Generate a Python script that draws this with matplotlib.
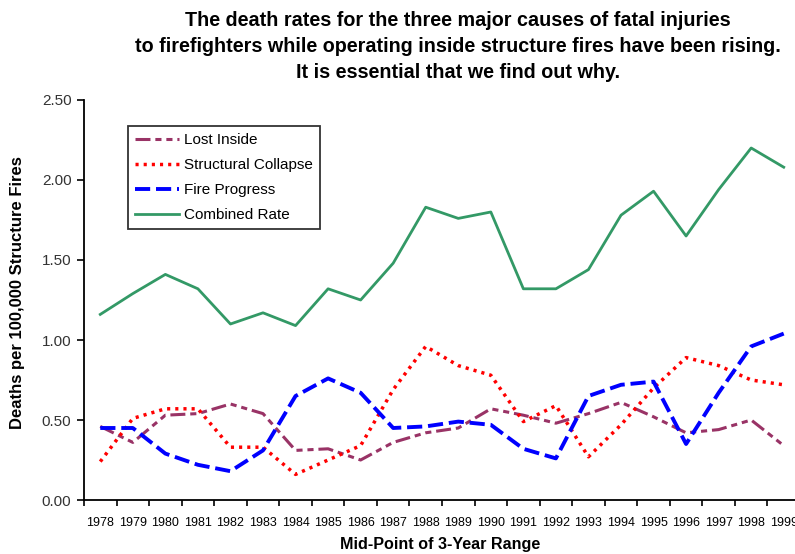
import numpy as np
import matplotlib
matplotlib.use("Agg")
import matplotlib.pyplot as plt

plt.rcParams['font.family'] = ['Liberation Sans', 'DejaVu Sans']

years = [str(y) for y in range(1978, 2000)]
lost_inside = [0.46, 0.36, 0.53, 0.54, 0.60, 0.54, 0.31, 0.32, 0.25, 0.36, 0.42,
               0.45, 0.57, 0.53, 0.48, 0.54, 0.61, 0.52, 0.42, 0.44, 0.50, 0.34]
structural_collapse = [0.24, 0.51, 0.57, 0.57, 0.33, 0.33, 0.16, 0.25, 0.34, 0.69, 0.96,
                       0.84, 0.78, 0.49, 0.59, 0.27, 0.47, 0.70, 0.89, 0.84, 0.75, 0.72]
fire_progress = [0.45, 0.45, 0.29, 0.22, 0.18, 0.31, 0.65, 0.76, 0.67, 0.45, 0.46,
                 0.49, 0.47, 0.32, 0.26, 0.65, 0.72, 0.74, 0.35, 0.67, 0.96, 1.04]
combined_rate = [1.16, 1.29, 1.41, 1.32, 1.10, 1.17, 1.09, 1.32, 1.25, 1.48, 1.83,
                 1.76, 1.80, 1.32, 1.32, 1.44, 1.78, 1.93, 1.65, 1.94, 2.20, 2.08]
yticks = [0.0, 0.5, 1.0, 1.5, 2.0, 2.5]

W, H = 795, 554
fig = plt.figure(figsize=(W / 100, H / 100), dpi=100)
ax = fig.add_axes([84 / W, (H - 500) / H, 716 / W, 400 / H])

x = np.arange(len(years))
l1, = ax.plot(x, lost_inside, color='#993366', lw=2.2, label='Lost Inside')
l1.set_dashes([4.9, 1.6, 2.0, 1.6, 2.0, 1.6])
l2, = ax.plot(x, structural_collapse, color='#FF0000', lw=2.5, label='Structural Collapse',
              dash_capstyle='butt')
l2.set_dashes([0.9, 1.45])
l3, = ax.plot(x, fire_progress, color='#0000FF', lw=2.8, label='Fire Progress')
l3.set_dashes([3.9, 1.5])
l4, = ax.plot(x, combined_rate, color='#339966', lw=2.0, label='Combined Rate')

ax.set_xlim(-0.5, len(years) - 0.5)
ax.set_ylim(0, 2.5)
ax.set_xticks(x)
ax.set_xticklabels(years, fontsize=9)
ax.set_xticks(np.arange(-0.5, len(years), 1.0), minor=True)
ax.tick_params(axis='x', which='major', length=0, pad=12)
ax.tick_params(axis='x', which='minor', length=4, width=1.2, direction='out')
ax.set_yticks(yticks)
ax.set_yticklabels([f"{v:.2f}" for v in yticks], fontsize=11, color='#333333')
ax.tick_params(axis='y', length=5, width=1.2, direction='out', pad=4)
for s in ('top', 'right'):
    ax.spines[s].set_visible(False)
for s in ('left', 'bottom'):
    ax.spines[s].set_linewidth(1.3)

fig.text(18 / W, 1 - 293 / H, 'Deaths per 100,000 Structure Fires', rotation=90,
         ha='center', va='center', fontsize=12, fontweight='bold')
fig.text(440 / W, 1 - 545 / H, 'Mid-Point of 3-Year Range', ha='center', va='center',
         fontsize=11.6, fontweight='bold')
title_lines = ["The death rates for the three major causes of fatal injuries",
               "to firefighters while operating inside structure fires have been rising.",
               "It is essential that we find out why."]
for i, t in enumerate(title_lines):
    fig.text(458 / W, 1 - (20 + 26 * i) / H, t, ha='center', va='center',
             fontsize=14.2, fontweight='bold')

leg = ax.legend(loc='upper left', bbox_to_anchor=(128 / W, 1 - 126 / H),
                bbox_transform=fig.transFigure, fontsize=11, frameon=True,
                fancybox=False, edgecolor='black', handlelength=2.9,
                handletextpad=0.3, labelspacing=0.72, borderpad=0.45, borderaxespad=0)
leg.get_frame().set_linewidth(1.3)

fig.savefig('out.png', dpi=100)
